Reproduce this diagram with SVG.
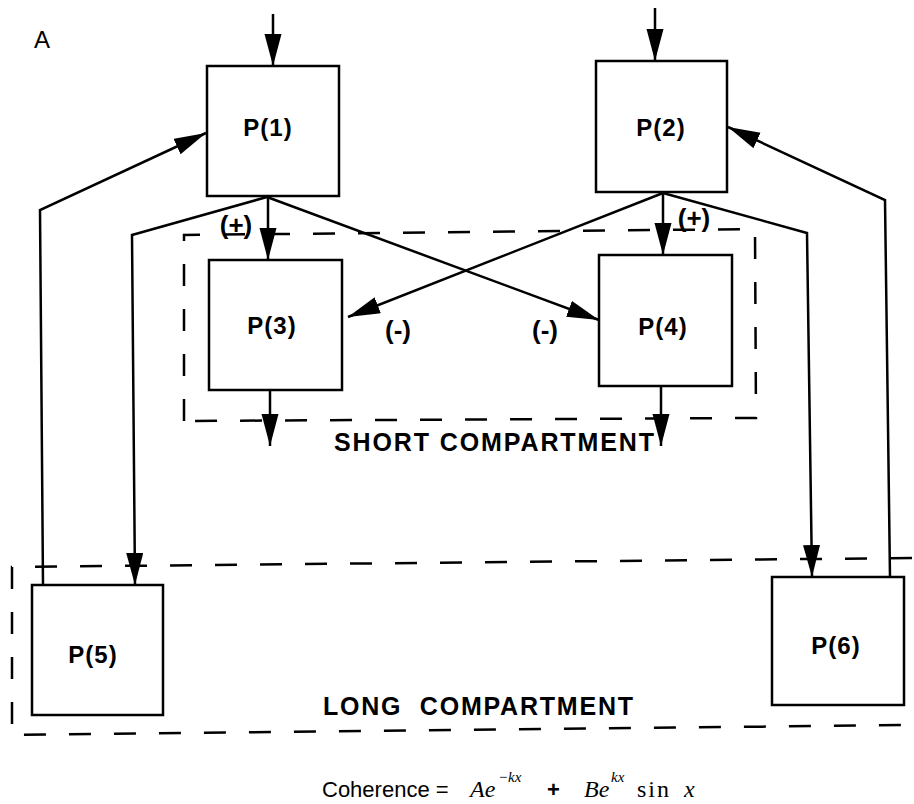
<svg xmlns="http://www.w3.org/2000/svg" width="914" height="804" viewBox="0 0 914 804">
<style>
.box{fill:#fff;stroke:#000;stroke-width:2.5}
.lbl{font-family:"Liberation Sans",Arial,sans-serif;font-weight:bold;font-size:24px;letter-spacing:1px;text-anchor:middle;fill:#000}
.sgn{font-family:"Liberation Sans",Arial,sans-serif;font-weight:bold;font-size:26px;text-anchor:middle;fill:#000}
.cmp{font-family:"Liberation Sans",Arial,sans-serif;font-weight:bold;font-size:25px;fill:#000}
.con{fill:none;stroke:#000;stroke-width:2.5;marker-end:url(#ah)}
.dash{fill:none;stroke:#000;stroke-width:2.5;stroke-dasharray:22 23}
.mi{font-family:"Liberation Serif","Times New Roman",serif;font-style:italic;font-size:24px}
.mr{font-family:"Liberation Serif","Times New Roman",serif;font-size:24px;letter-spacing:2px}
.sup{font-family:"Liberation Serif","Times New Roman",serif;font-style:italic;font-size:15px}
.sans{font-family:"Liberation Sans",Arial,sans-serif}
</style>
<defs>
<marker id="ah" markerUnits="userSpaceOnUse" markerWidth="34" markerHeight="18" refX="32" refY="8.5" orient="auto">
<path d="M0,0 L32,8.5 L0,17 Z" fill="#000"/>
</marker>
</defs>
<rect width="914" height="804" fill="#fff"/>
<text class="sans" x="34" y="48" font-size="24">A</text>

<g id="compartments">
<path class="dash" d="M184,421 L184,235 L755,229 L756,418 Z"/>
<path class="dash" d="M912,558 L12,567 L12,735 L912,725"/>
<text class="cmp" x="334" y="451" textLength="320" lengthAdjust="spacing">SHORT COMPARTMENT</text>
<text class="cmp" x="323" y="715" textLength="310" lengthAdjust="spacing" xml:space="preserve">LONG  COMPARTMENT</text>
</g>

<g id="connectors">
<line class="con" x1="273" y1="14" x2="273" y2="66"/>
<line class="con" x1="655" y1="8" x2="655" y2="61"/>
<line class="con" x1="268" y1="196" x2="268" y2="260"/>
<line class="con" x1="663" y1="192" x2="663" y2="255"/>
<line class="con" x1="267" y1="197" x2="599" y2="320"/>
<line class="con" x1="663" y1="193" x2="348" y2="317"/>
<line class="con" x1="270" y1="390" x2="270" y2="446"/>
<line class="con" x1="661" y1="386" x2="661" y2="446"/>
<polyline class="con" points="267,197 132,235 135,585"/>
<polyline class="con" points="43,585 40,210 206,133"/>
<polyline class="con" points="663,193 807,233 812,577"/>
<polyline class="con" points="890,577 885,200 728,127"/>
</g>

<g id="P1"><rect class="box" x="207" y="66" width="132" height="130"/><text class="lbl" x="268" y="136">P(1)</text></g>
<g id="P2"><rect class="box" x="596" y="61" width="131" height="131"/><text class="lbl" x="661" y="136">P(2)</text></g>
<g id="P3"><rect class="box" x="209" y="260" width="133" height="130"/><text class="lbl" x="272" y="334">P(3)</text></g>
<g id="P4"><rect class="box" x="599" y="255" width="133" height="131"/><text class="lbl" x="663" y="335">P(4)</text></g>
<g id="P5"><rect class="box" x="32" y="585" width="131" height="130"/><text class="lbl" x="93" y="663">P(5)</text></g>
<g id="P6"><rect class="box" x="772" y="577" width="132" height="128"/><text class="lbl" x="836" y="654">P(6)</text></g>

<g id="signs">
<text class="sgn" x="236" y="234">(+)</text>
<text class="sgn" x="694" y="227">(+)</text>
<text class="sgn" x="398" y="339">(-)</text>
<text class="sgn" x="545" y="339">(-)</text>
</g>

<g id="formula">
<text class="sans" x="322" y="797" font-size="22">Coherence =</text>
<text class="mi" x="470" y="797">Ae</text>
<text class="sup" x="498" y="782">−kx</text>
<text class="sans" x="547" y="797" font-size="22" font-weight="bold">+</text>
<text class="mi" x="584" y="797">Be</text>
<text class="sup" x="611" y="782">kx</text>
<text class="mr" x="637" y="797">sin</text>
<text class="mi" x="684" y="797">x</text>
</g>
</svg>
